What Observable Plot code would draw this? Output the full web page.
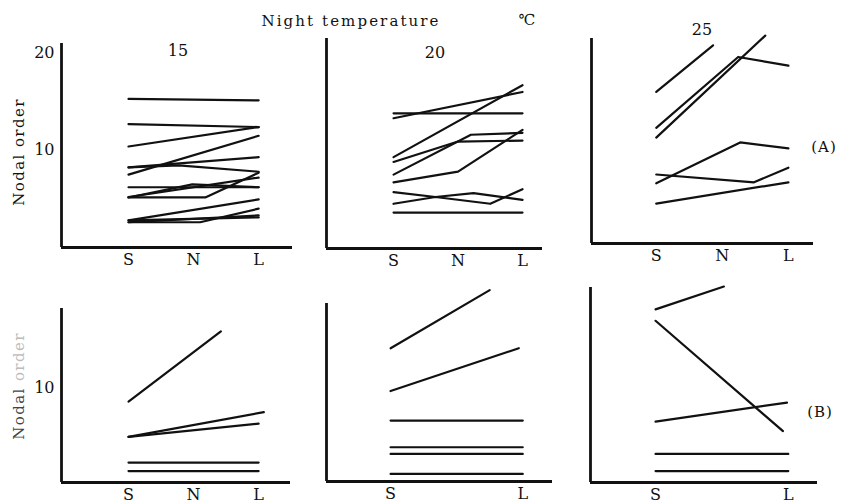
<!DOCTYPE html>
<html>
<head>
<meta charset="utf-8">
<script src="https://cdn.jsdelivr.net/npm/d3@7"></script>
<script src="https://cdn.jsdelivr.net/npm/@observablehq/plot@0.6"></script>
<style>
  html, body { margin: 0; padding: 0; background: white; }
  #root { position: relative; width: 841px; height: 504px; background: white; overflow: hidden;
          font-family: "DejaVu Serif", "Liberation Serif", serif; color: #111; }
  #root svg { position: absolute; left: 0; top: 0; }
  .lbl { position: absolute; transform: translate(-50%, -50%); white-space: nowrap; font-size: 15px; line-height: 1; }
</style>
</head>
<body>
<div id="root"></div>
<script>
// ---- data ----
const xLabels = ["S", "N", "L"];          // photoperiod positions 0,1,2
const nightTemps = ["15", "20", "25"];    // column titles
const rowLabels = ["(A)", "(B)"];
const yLabelWords = ["Nodal", "order"];
const titleText = "Night temperature";
const unitText = "℃";

// Each series: list of [x position (S=0, N=1, L=2), nodal order]
const A15 = [
  [[0, 15.3], [2, 15.15]],
  [[0, 12.7], [2, 12.4]],
  [[0, 10.4], [2, 12.4]],
  [[0, 7.5], [2, 11.5]],
  [[0, 8.25], [2, 9.3]],
  [[0, 8.25], [0.77, 8.45], [2, 7.8]],
  [[0, 6.2], [2, 6.2]],
  [[0, 5.15], [0.98, 6.5], [2, 6.2]],
  [[0, 5.15], [1.18, 5.15], [2, 7.7]],
  [[0, 5.2], [2, 7.2]],
  [[0, 2.8], [2, 4.95]],
  [[0, 2.6], [1.1, 2.6], [2, 4.0]],
  [[0, 2.6], [2, 3.3]],
  [[0, 2.8], [2, 3.1]]
];
const A20 = [
  [[0, 13.9], [2, 13.9]],
  [[0, 13.4], [2, 16.1]],
  [[0, 9.4], [2, 16.8]],
  [[0, 8.9], [1, 11.0], [2, 11.1]],
  [[0, 7.6], [1.2, 11.7], [2, 11.9]],
  [[0, 6.8], [1, 7.9], [2, 12.2]],
  [[0, 5.8], [0.65, 5.3], [1.24, 5.7], [2, 5.0]],
  [[0, 4.6], [0.65, 5.3], [1.5, 4.6], [2, 6.1]],
  [[0, 3.7], [2, 3.7]]
];
const A25 = [
  [[0, 15.6], [0.86, 20.4]],
  [[0, 11.9], [1.24, 19.2], [2, 18.3]],
  [[0, 10.9], [1.65, 21.4]],
  [[0, 6.2], [1.27, 10.4], [2, 9.8]],
  [[0, 7.1], [1.48, 6.3], [2, 7.8]],
  [[0, 4.1], [2, 6.3]]
];
const B15 = [
  [[0, 8.5], [1.42, 15.9]],
  [[0, 4.8], [2.08, 7.4]],
  [[0, 4.8], [2, 6.2]],
  [[0, 2.1], [2, 2.1]],
  [[0, 1.2], [2, 1.2]]
];
const B20 = [
  [[0, 14.0], [1.5, 20.1]],
  [[0, 9.5], [1.94, 14.0]],
  [[0, 6.4], [2, 6.4]],
  [[0, 3.6], [2, 3.6]],
  [[0, 2.9], [2, 2.9]],
  [[0, 0.8], [2, 0.8]]
];
const B25 = [
  [[0, 18.2], [1.03, 20.6]],
  [[0, 17.0], [1.92, 5.4]],
  [[0, 6.4], [1.98, 8.4]],
  [[0, 3.0], [2, 3.0]],
  [[0, 1.2], [2, 1.2]]
];

// ---- layout (pixel frames of each panel) ----
const W = 841, H = 504;
const panels = [
  {series: A15, frame: [61, 43, 292, 247],  xd: [-1.03, 2.52], ymax: 21.0, xticks: [0, 1, 2], yticks: [10, 20]},
  {series: A20, frame: [326, 38, 542, 248], xd: [-1.04, 2.31], ymax: 21.6, xticks: [0, 1, 2], yticks: null},
  {series: A25, frame: [591, 38, 813, 243], xd: [-0.98, 2.38], ymax: 21.1, xticks: [0, 1, 2], yticks: null},
  {series: B15, frame: [61, 308, 290, 482], xd: [-1.03, 2.49], ymax: 18.3, xticks: [0, 1, 2], yticks: [10]},
  {series: B20, frame: [326, 303, 552, 481], xd: [-0.97, 2.45], ymax: 18.7, xticks: [0, 2], yticks: null},
  {series: B25, frame: [590, 287, 817, 482], xd: [-0.98, 2.44], ymax: 20.5, xticks: [0, 2], yticks: null}
];

const root = document.getElementById("root");

for (const p of panels) {
  const rows = p.series.flatMap((s, i) => s.map(([x, v]) => ({id: i, x, v})));
  const [l, t, r, b] = p.frame;
  const marks = [
    Plot.axisX(p.xticks, {tickSize: 0, tickPadding: 6, tickFormat: d => xLabels[d], label: null, fontSize: 16}),
    Plot.ruleX([p.xd[0]], {stroke: "#111", strokeWidth: 2.8}),
    Plot.ruleY([0], {stroke: "#111", strokeWidth: 2.8}),
    Plot.line(rows, {x: "x", y: "v", z: "id", stroke: "#111", strokeWidth: 2.2, strokeLinecap: "round"})
  ];
  if (p.yticks) marks.push(Plot.axisY(p.yticks, {tickSize: 0, tickPadding: 7, label: null, fontSize: 16}));
  const chart = Plot.plot({
    width: W, height: H,
    marginLeft: l, marginRight: W - r, marginTop: t, marginBottom: H - b,
    x: {domain: p.xd},
    y: {domain: [0, p.ymax], axis: p.yticks ? undefined : null},
    style: {background: "transparent", fontFamily: "DejaVu Serif, serif", fontSize: "16px", color: "#111", overflow: "visible"},
    marks
  });
  root.appendChild(chart);
}

function label(text, x, y, extra = {}) {
  const d = document.createElement("div");
  d.className = "lbl";
  d.textContent = text;
  d.style.left = x + "px";
  d.style.top = y + "px";
  Object.assign(d.style, extra);
  root.appendChild(d);
  return d;
}

label(titleText, 351, 21, {letterSpacing: "2.1px"});
label(unitText, 527, 20);
label(nightTemps[0], 178, 51, {fontSize: "16px"});
label(nightTemps[1], 435, 53, {fontSize: "16px"});
label(nightTemps[2], 702, 30, {fontSize: "16px"});
label(rowLabels[0], 824, 147, {letterSpacing: "1px"});
label(rowLabels[1], 820, 412, {letterSpacing: "1px"});
label(yLabelWords.join(" "), 19, 152, {transform: "translate(-50%, -50%) rotate(-90deg)", letterSpacing: "1.4px"});
const yl2 = label("", 19, 386, {transform: "translate(-50%, -50%) rotate(-90deg)", letterSpacing: "1.4px"});
const w1 = document.createElement("span"); w1.textContent = yLabelWords[0] + " "; w1.style.color = "#444";
const w2 = document.createElement("span"); w2.textContent = yLabelWords[1]; w2.style.color = "#bbb";
yl2.append(w1, w2);
</script>
</body>
</html>
